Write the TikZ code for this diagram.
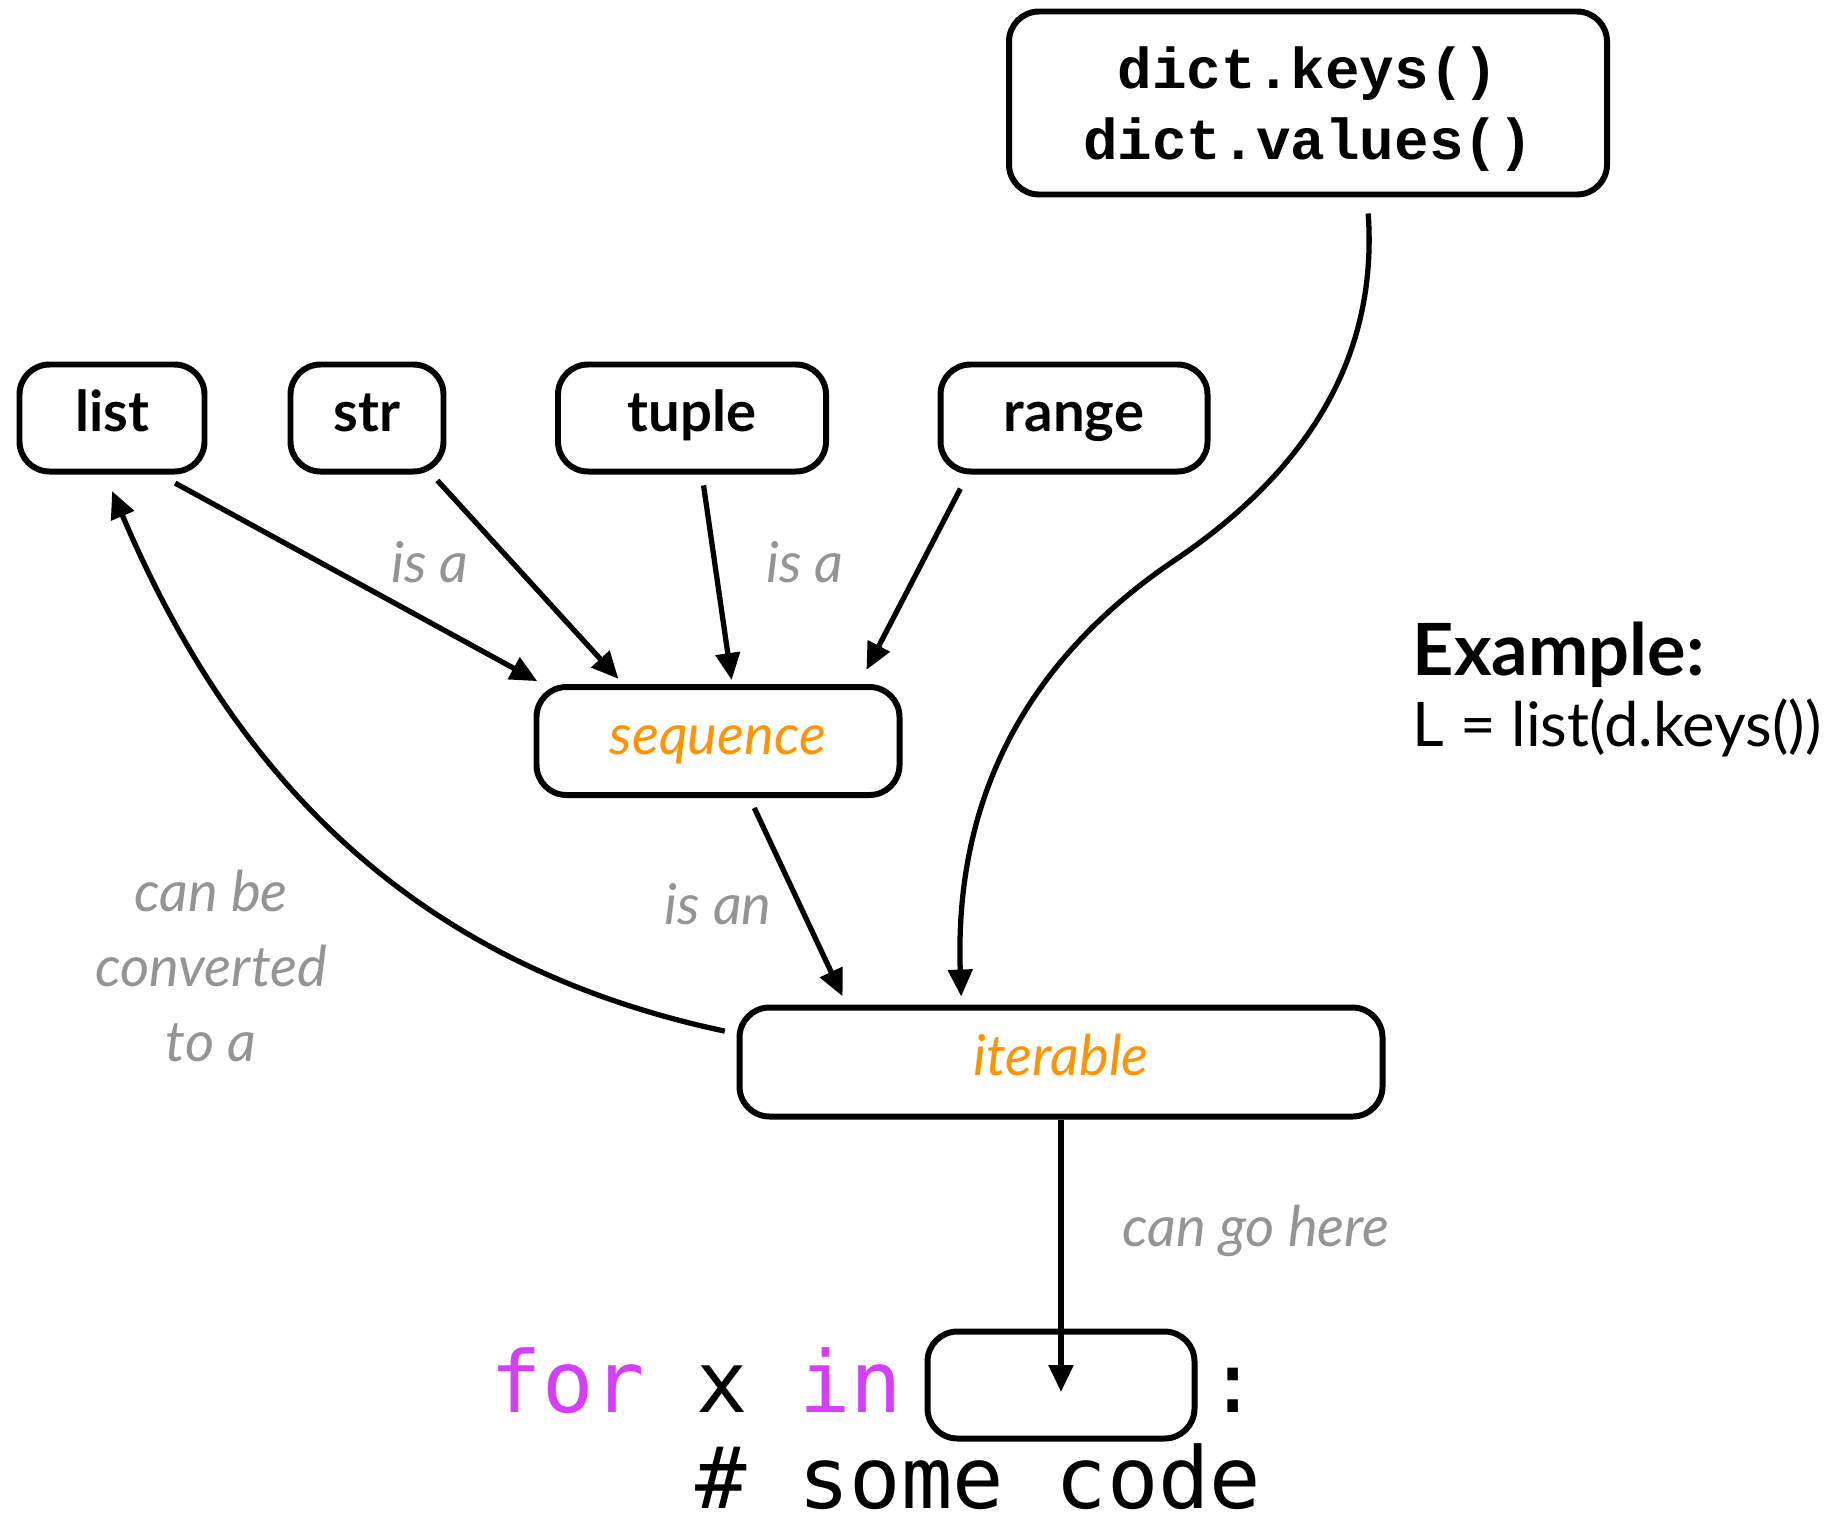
\documentclass[tikz,border=0pt]{standalone}
\usepackage{fontspec}
\setmainfont{Lato}
\setmonofont{DejaVu Sans Mono}
\newfontfamily\courier{Liberation Mono}
\usetikzlibrary{arrows.meta}
\usetikzlibrary{calc}
\definecolor{kindorange}{RGB}{255,148,0}
\definecolor{kwpink}{RGB}{212,62,252}
\definecolor{labgray}{RGB}{148,148,148}
\tikzset{box/.style={draw, line width=1.7pt, rounded corners=0.3cm, minimum height=1.07cm, inner sep=0pt}}
\tikzset{typ/.style={font=\fontsize{16}{16}\selectfont\bfseries, text height=0.75em, text depth=-0.08em}}
\tikzset{kind/.style={font=\fontsize{16}{16}\selectfont\itshape, text=kindorange, text height=0.75em, text depth=-0.12em}}
\tikzset{lab/.style={font=\fontsize{16}{21.3}\selectfont\itshape, text=labgray, align=center, anchor=base, inner sep=0pt}}
\tikzset{code/.style={font=\ttfamily\fontsize{24.3}{24.3}\selectfont, anchor=base west, inner sep=0pt, text depth=0pt}}
\tikzset{arr/.style={-{Triangle[length=2.7mm,width=2.4mm]}, line width=1.5pt}}

\begin{document}
\begin{tikzpicture}
  \useasboundingbox (0,0) rectangle (18.34,-15.18);
  % views of a dict
  \node[box, minimum width=5.98cm, minimum height=1.83cm, align=center, text depth=-1.6pt,
        font=\courier\bfseries\fontsize{16.4}{20.3}\selectfont] (dict) at (13.08,-1.03)
        {dict.keys()\\dict.values()};
  % concrete types
  \node[box, typ, minimum width=1.85cm] (list) at (1.12,-4.18) {list};
  \node[box, typ, minimum width=1.53cm] (str) at (3.67,-4.18) {str};
  \node[box, typ, minimum width=2.68cm] (tuple) at (6.92,-4.18) {tuple};
  \node[box, typ, minimum width=2.67cm] (range) at (10.74,-4.18) {range};
  % abstract kinds
  \node[box, kind, minimum width=3.63cm, minimum height=1.08cm] (seq) at (7.18,-7.41) {sequence};
  \node[box, kind, minimum width=6.43cm, minimum height=1.09cm] (iter) at (10.61,-10.62) {iterable};
  % the loop header with its slot
  \node[code] (forin) at (4.90,-14.12) {\textcolor{kwpink}{for} x \textcolor{kwpink}{in}};
  \node[box, minimum width=2.67cm] (slot) at (10.61,-13.85) {};
  \node[code] (colon) at (12.07,-14.12) {:};
  \node[code] (body) at (6.95,-15.08) {\# some code};
  \coordinate (slotpin) at (10.61,-13.92);
  \coordinate (kink) at (11.75,-5.60);

  \draw[arr, shorten <=0.18cm, shorten >=0.06cm] (list.-50) -- (seq.162);
  \draw[arr, shorten <=0.08cm, shorten >=0.07cm] (str.-41) -- (seq.149);
  \draw[arr, shorten <=0.11cm, shorten >=0.04cm] (tuple.-80) -- (seq.76);
  \draw[arr, shorten <=0.16cm, shorten >=0.16cm] (range.-152) -- (seq.22);
  \draw[arr, shorten <=0.11cm, shorten >=0.09cm] (seq.-61) -- (iter.165);
  \draw[arr, shorten <=0.16cm, shorten >=0.08cm] (dict.-58) to[out=-86, in=34] (kink)
    to[out=-146, in=92] (iter.150);
  \draw[arr, shorten <=0.12cm, shorten >=0.18cm] (iter.175) to[out=168, in=-67] (list.-97);
  \draw[arr] (iter.south) -- (slotpin);

  % labels
  \node[lab] at (4.30,-5.82) {is a};
  \node[lab] at (8.05,-5.82) {is a};
  \node[lab] at (7.18,-9.24) {is an};
  \node[lab] at (2.11,-10.61) {can be\\converted\\to a};
  \node[lab] at (12.56,-12.46) {can go here};
  \node[font=\fontsize{20.5}{20.5}\selectfont\bfseries, anchor=base west, inner sep=0pt] (exhead) at (14.12,-6.75) {Example:};
  \node[font=\fontsize{17.5}{17.5}\selectfont, anchor=base west, inner sep=0pt] (excode) at (14.12,-7.46) {L = list(d.keys())};
\end{tikzpicture}
\end{document}
